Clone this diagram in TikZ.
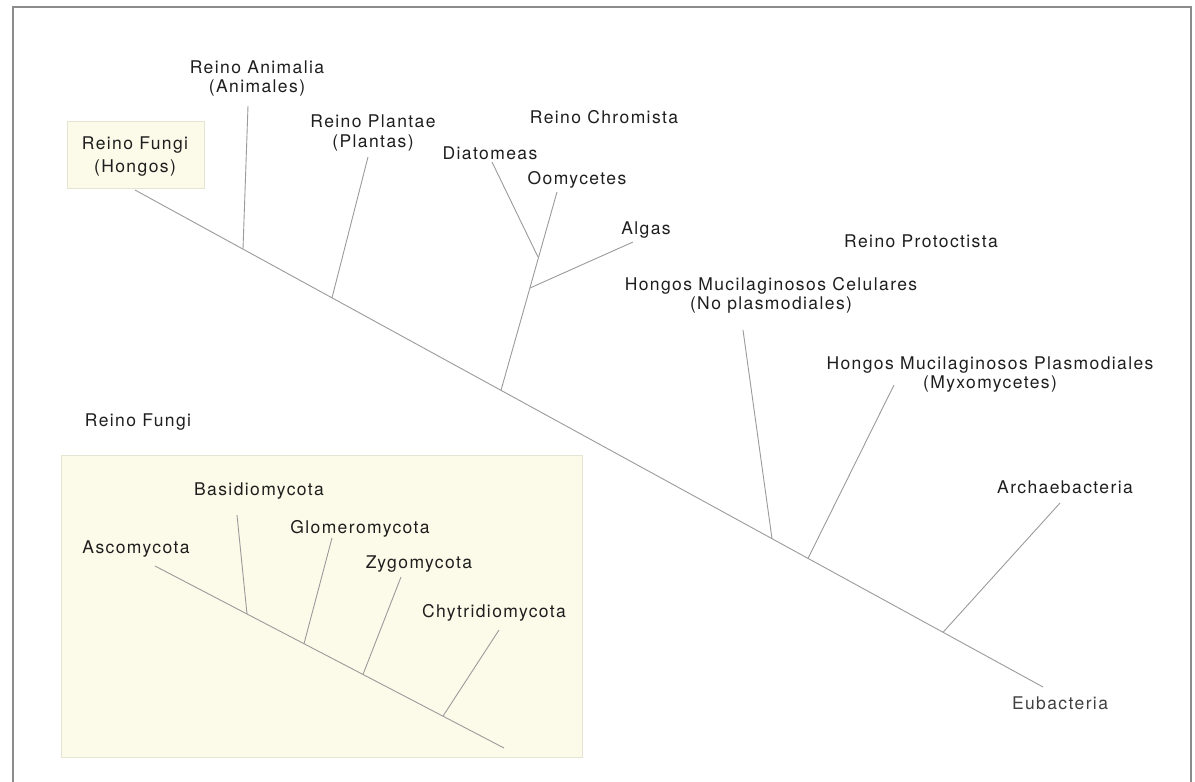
\documentclass[tikz,border=0pt]{standalone}
\usepackage{fontspec}
\newfontfamily\lblfont[LetterSpace=8]{TeX Gyre Heros}
\definecolor{txt}{HTML}{1E1E1E}
\definecolor{branch}{HTML}{9A9A9A}
\definecolor{framec}{HTML}{8C8C8C}
\definecolor{boxfill}{HTML}{FCFBE9}
\definecolor{boxline}{HTML}{E6E4D2}
\tikzset{
  lbl/.style={anchor=base, align=center, inner sep=0pt, text=txt,
    font=\lblfont\fontsize{17.5}{19}\selectfont},
  br/.style={draw=branch, line width=0.9pt},
  pale/.style={fill=boxfill, draw=boxline, line width=0.8pt},
  frm/.style={draw=framec, line width=1.4pt}
}
\begin{document}
\begin{tikzpicture}[x=1pt,y=-1pt]
\useasboundingbox (0,0) rectangle (1195,782);
% frame
\draw[frm] (13,782) -- (13,7) -- (1191,7) -- (1191,782);
% boxes
\path[pale] (67,121) rectangle (204,188);
\path[pale] (61,455) rectangle (582,757);

% labels main tree (multi-line: y is the baseline of the last line)
\node[lbl, font=\lblfont\fontsize{17.5}{23}\selectfont] (fungi) at (135,172) {Reino Fungi\\(Hongos)};
\node[lbl] (anim) at (257,92) {Reino Animalia\\(Animales)};
\node[lbl, font=\lblfont\fontsize{17.5}{20}\selectfont] (plan) at (373,147) {Reino Plantae\\(Plantas)};
\node[lbl] (chrom) at (604,123) {Reino Chromista};
\node[lbl] (diat) at (490,159) {Diatomeas};
\node[lbl] (oomy) at (577,184) {Oomycetes};
\node[lbl] (algas) at (646,234) {Algas};
\node[lbl] (prot) at (921,247) {Reino Protoctista};
\node[lbl] (celu) at (771,309) {Hongos Mucilaginosos Celulares\\(No plasmodiales)};
\node[lbl] (plas) at (990,388) {Hongos Mucilaginosos Plasmodiales\\(Myxomycetes)};
\node[lbl] (arch) at (1065,493) {Archaebacteria};
\node[lbl, text=txt!85] (eub) at (1060,709) {Eubacteria};
\node[lbl] (rfungi) at (138,426) {Reino Fungi};

% labels inset
\node[lbl] (asco) at (136,553) {Ascomycota};
\node[lbl] (basi) at (259,495) {Basidiomycota};
\node[lbl] (glom) at (360,533) {Glomeromycota};
\node[lbl] (zygo) at (419,568) {Zygomycota};
\node[lbl] (chyt) at (494,617) {Chytridiomycota};

% main tree coordinates
\coordinate (root) at (135,190);
\coordinate (tipE) at (1043,687);
\coordinate (jA) at (243,249.1);
\coordinate (jP) at (332,297.8);
\coordinate (jC) at (501,390.3);
\coordinate (jH) at (772,538.7);
\coordinate (jM) at (808,558.4);
\coordinate (jAr) at (943,632.3);
\coordinate (tA) at (248,106);
\coordinate (tP) at (368,157);
\coordinate (tO) at (557,192);
\coordinate (c1) at (530,288);
\coordinate (c2) at (538,257);
\coordinate (tD) at (492,162);
\coordinate (tAl) at (633,242);
\coordinate (tH) at (743,330);
\coordinate (tM) at (894,385);
\coordinate (tAr) at (1060,503);

\draw[br] (root) -- (tipE);
\draw[br] (jA) -- (tA);
\draw[br] (jP) -- (tP);
\draw[br] (jC) -- (tO);
\draw[br] (c2) -- (tD);
\draw[br] (c1) -- (tAl);
\draw[br] (jH) -- (tH);
\draw[br] (jM) -- (tM);
\draw[br] (jAr) -- (tAr);

% inset coordinates
\coordinate (iroot) at (155,566);
\coordinate (iend) at (504,748);
\coordinate (jB) at (247,614);
\coordinate (jG) at (304,643.7);
\coordinate (jZ) at (363,674.4);
\coordinate (jCh) at (443,716.1);
\coordinate (tB) at (237,515);
\coordinate (tG) at (332,538);
\coordinate (tZ) at (401,577);
\coordinate (tCh) at (499,630);

\draw[br] (iroot) -- (iend);
\draw[br] (jB) -- (tB);
\draw[br] (jG) -- (tG);
\draw[br] (jZ) -- (tZ);
\draw[br] (jCh) -- (tCh);
\end{tikzpicture}
\end{document}
